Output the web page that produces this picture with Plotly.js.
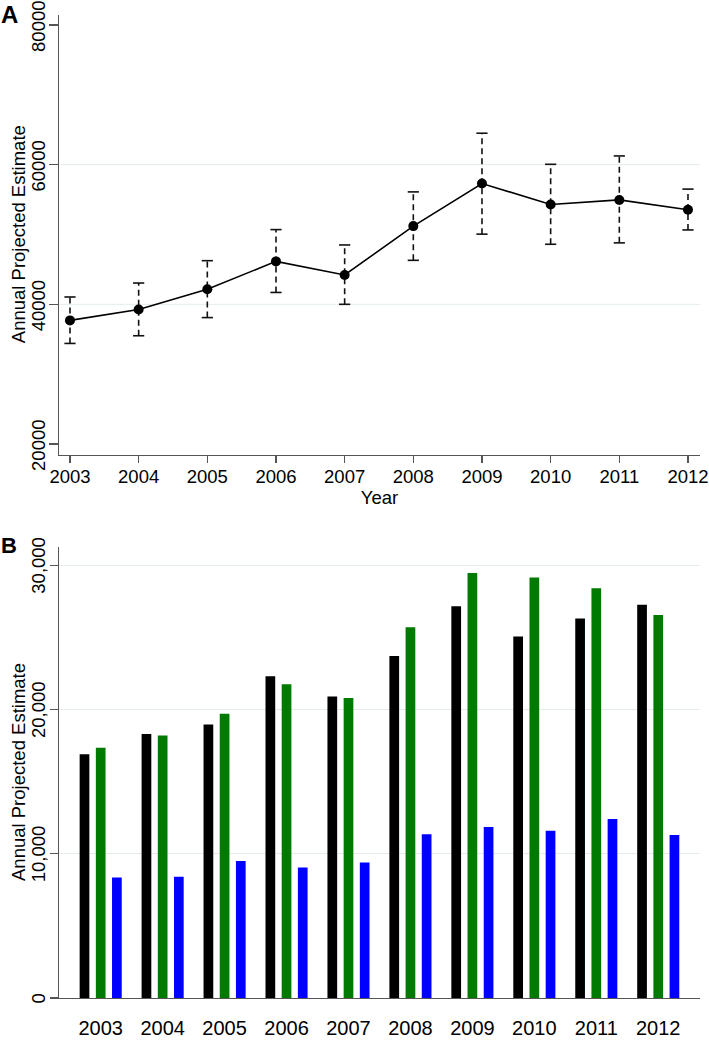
<!DOCTYPE html>
<html>
<head>
<meta charset="utf-8">
<script src="https://cdn.plot.ly/plotly-3.0.1.min.js"></script>
<style>html,body{margin:0;padding:0;background:#fff;}#chart{width:709px;height:1044px;}</style>
</head>
<body>
<div id="chart"></div>
<script>
// ---- Panel A data ----
const years = [2003, 2004, 2005, 2006, 2007, 2008, 2009, 2010, 2011, 2012];
const estimateA = [37700, 39250, 42150, 46150, 44200, 51200, 57300, 54300, 54950, 53550];
const upperA = [41050, 43050, 46250, 50700, 48500, 56100, 64500, 60050, 61250, 56500];
const lowerA = [34400, 35500, 38100, 41700, 40000, 46300, 50050, 48600, 48800, 50650];
const yTicksA = [20000, 40000, 60000, 80000];

// ---- Panel B data ----
const yearLabels = ["2003", "2004", "2005", "2006", "2007", "2008", "2009", "2010", "2011", "2012"];
const seriesBlack = [16900, 18300, 18950, 22300, 20900, 23700, 27150, 25050, 26300, 27250];
const seriesGreen = [17350, 18200, 19700, 21750, 20800, 25700, 29450, 29150, 28400, 26550];
const seriesBlue = [8350, 8400, 9500, 9050, 9400, 11350, 11850, 11600, 12400, 11300];
const yTicksB = [0, 10000, 20000, 30000];
const yTitle = "Annual Projected Estimate";

const FONT = "Liberation Sans, Arial, Helvetica, sans-serif";
const AXIS = "#555";
const GRID = "#e3ecec";

// dashed error-bar stems from the bounds arrays
const stemX = [], stemY = [];
years.forEach((yr, i) => { stemX.push(yr, yr, null); stemY.push(lowerA[i], upperA[i], null); });

const traces = [
  { type: "scatter", mode: "lines", x: stemX, y: stemY, xaxis: "x", yaxis: "y",
    line: { color: "#111", width: 1.6, dash: "6px,4px" }, hoverinfo: "skip", showlegend: false },
  { type: "scatter", mode: "markers", x: years, y: upperA, xaxis: "x", yaxis: "y",
    marker: { symbol: "line-ew", size: 8, line: { color: "#111", width: 1.6 } }, showlegend: false },
  { type: "scatter", mode: "markers", x: years, y: lowerA, xaxis: "x", yaxis: "y",
    marker: { symbol: "line-ew", size: 8, line: { color: "#111", width: 1.6 } }, showlegend: false },
  { type: "scatter", mode: "lines+markers", x: years, y: estimateA, xaxis: "x", yaxis: "y",
    line: { color: "#000", width: 1.6 }, marker: { color: "#000", size: 10 }, showlegend: false },
  { type: "bar", x: yearLabels, y: seriesBlack, xaxis: "x2", yaxis: "y2",
    marker: { color: "#000000" }, showlegend: false },
  { type: "bar", x: yearLabels, y: seriesGreen, xaxis: "x2", yaxis: "y2",
    marker: { color: "#007a00" }, showlegend: false },
  { type: "bar", x: yearLabels, y: seriesBlue, xaxis: "x2", yaxis: "y2",
    marker: { color: "#0000ff" }, showlegend: false }
];

// light interior gridlines for panel A (none at the extreme ticks)
const gridShapes = yTicksA.slice(1, -1).map(v => ({
  type: "line", xref: "x domain", yref: "y", x0: 0, x1: 1, y0: v, y1: v,
  line: { color: GRID, width: 1 }, layer: "below"
}));

const layout = {
  width: 709, height: 1044,
  margin: { l: 59, r: 9, t: 15, b: 46 },
  paper_bgcolor: "#fff", plot_bgcolor: "#fff",
  font: { family: FONT, color: "#000", size: 18 },
  barmode: "group", bargap: 0.216, bargroupgap: 0.4,
  shapes: gridShapes,
  xaxis: {
    domain: [0, 1], anchor: "y", type: "linear", range: [2002.84, 2012.175],
    tickvals: years, ticktext: yearLabels, ticks: "outside", ticklen: 7, tickwidth: 1.3,
    ticklabelstandoff: -2,
    tickcolor: AXIS, showline: true, linecolor: AXIS, linewidth: 1.3,
    showgrid: false, zeroline: false, tickfont: { size: 18.5 },
    title: { text: "Year", font: { size: 18.5 }, standoff: 0 }, automargin: false
  },
  yaxis: {
    domain: [0.5524, 1], anchor: "x", range: [18425, 81430],
    tickvals: yTicksA, ticktext: yTicksA.map(String), tickangle: -90,
    ticks: "outside", ticklen: 9, tickwidth: 1.3, tickcolor: AXIS,
    ticklabelstandoff: -4, ticklabelshift: 4, ticklabeloverflow: "allow",
    showline: true, linecolor: AXIS, linewidth: 1.3,
    showgrid: false, zeroline: false,
    tickfont: { size: 18.5 }, automargin: false
  },
  xaxis2: {
    domain: [0, 1], anchor: "y2", type: "category", range: [-0.673, 9.674],
    ticks: "outside", ticklen: 12, tickcolor: "rgba(0,0,0,0)",
    showline: true, linecolor: AXIS, linewidth: 1.3, showgrid: false, zeroline: false,
    tickfont: { size: 20 }, automargin: false
  },
  yaxis2: {
    domain: [0, 0.4591], anchor: "x2", range: [0, 31280],
    tickvals: yTicksB, ticktext: yTicksB.map(v => v.toLocaleString("en-US")), tickangle: -90,
    ticks: "outside", ticklen: 8, tickwidth: 1.3, tickcolor: AXIS,
    ticklabelstandoff: -3, ticklabelshift: 3, ticklabeloverflow: "allow",
    showline: true, linecolor: AXIS, linewidth: 1.3,
    showgrid: true, gridcolor: GRID, gridwidth: 1, zeroline: false,
    tickfont: { size: 18.5 }, automargin: false
  },
  annotations: [
    { text: yTitle, xref: "paper", yref: "paper", x: -0.064, y: 0.777, textangle: -90,
      xanchor: "center", yanchor: "middle", showarrow: false, font: { size: 18.5, family: FONT } },
    { text: yTitle, xref: "paper", yref: "paper", x: -0.064, y: 0.2299, textangle: -90,
      xanchor: "center", yanchor: "middle", showarrow: false, font: { size: 18.5, family: FONT } },
    { text: "<b>A</b>", xref: "paper", yref: "paper", x: -0.094, y: 1.001,
      xanchor: "left", yanchor: "middle", showarrow: false, font: { size: 24, family: FONT } },
    { text: "<b>B</b>", xref: "paper", yref: "paper", x: -0.094, y: 0.4608,
      xanchor: "left", yanchor: "middle", showarrow: false, font: { size: 22, family: FONT } }
  ]
};

Plotly.newPlot("chart", traces, layout, { displayModeBar: false, staticPlot: true });
</script>
</body>
</html>
